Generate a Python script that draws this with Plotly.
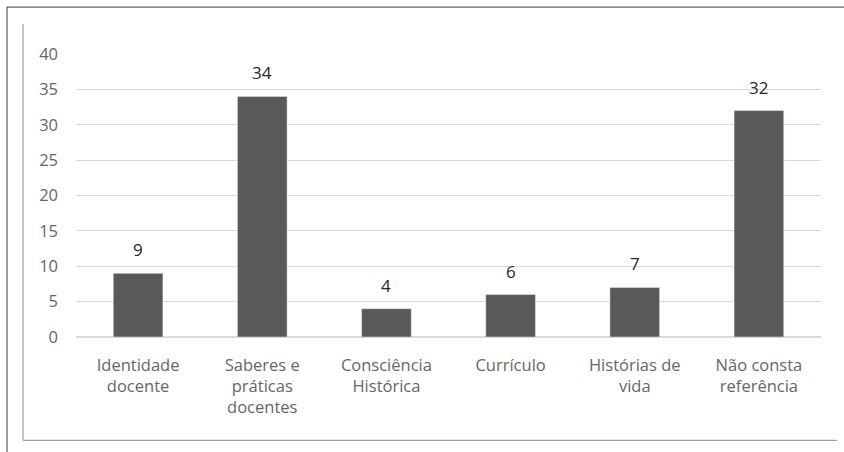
import plotly.graph_objects as go

categories = ["Identidade<br>docente", "Saberes e<br>práticas<br>docentes", "Consciência<br>Histórica",
              "Currículo", "Histórias de<br>vida", "Não consta<br>referência"]
values = [9, 34, 4, 6, 7, 32]
y_ticks = [0, 5, 10, 15, 20, 25, 30, 35, 40]

W, H = 844, 452
L, R, T, B = 76, 23, 54, 114.5
pw, ph = W - L - R, H - T - B

def px(x):
    return (x - L) / pw

def py(y):
    return (H - B - y) / ph

fig = go.Figure(go.Bar(x=categories, y=values, marker_color="#595959", width=0.4))

for c, v in zip(categories, values):
    fig.add_annotation(x=c, y=v, text=str(v), showarrow=False, yanchor="bottom", yshift=10,
                       font=dict(size=17, color="#262626"))

shapes = [
    dict(type="line", xref="paper", yref="paper", x0=px(7), x1=px(850), y0=py(7), y1=py(7),
         line=dict(color="#3a3a3a", width=1)),
    dict(type="line", xref="paper", yref="paper", x0=px(7), x1=px(7), y0=py(7), y1=py(460),
         line=dict(color="#3a3a3a", width=1)),
    dict(type="line", xref="paper", yref="paper", x0=px(23), x1=px(23), y0=py(24), y1=py(441),
         line=dict(color="#a0a0a0", width=1.2)),
    dict(type="line", xref="paper", yref="paper", x0=px(23), x1=px(837), y0=py(441), y1=py(441),
         line=dict(color="#a0a0a0", width=1.2)),
]

fig.update_layout(
    width=W, height=H,
    margin=dict(l=L, r=R, t=T, b=B),
    paper_bgcolor="white", plot_bgcolor="white",
    font=dict(family="Open Sans, sans-serif", size=17, color="#666666"),
    showlegend=False,
    shapes=shapes,
    bargap=0.6,
    xaxis=dict(showgrid=False, showline=False, ticks="", ticklabelstandoff=16,
               tickfont=dict(size=16.5, color="#666666")),
    yaxis=dict(range=[0, 40], tickvals=y_ticks, showgrid=True, gridcolor="#d9d9d9", gridwidth=1,
               zeroline=True, zerolinecolor="#d9d9d9", showline=False, ticks="",
               ticklabelstandoff=17, tickfont=dict(size=16.5, color="#666666")),
)

fig.write_html("out.html", config={"displayModeBar": False},
               post_script="document.body.style.margin='0px';")
